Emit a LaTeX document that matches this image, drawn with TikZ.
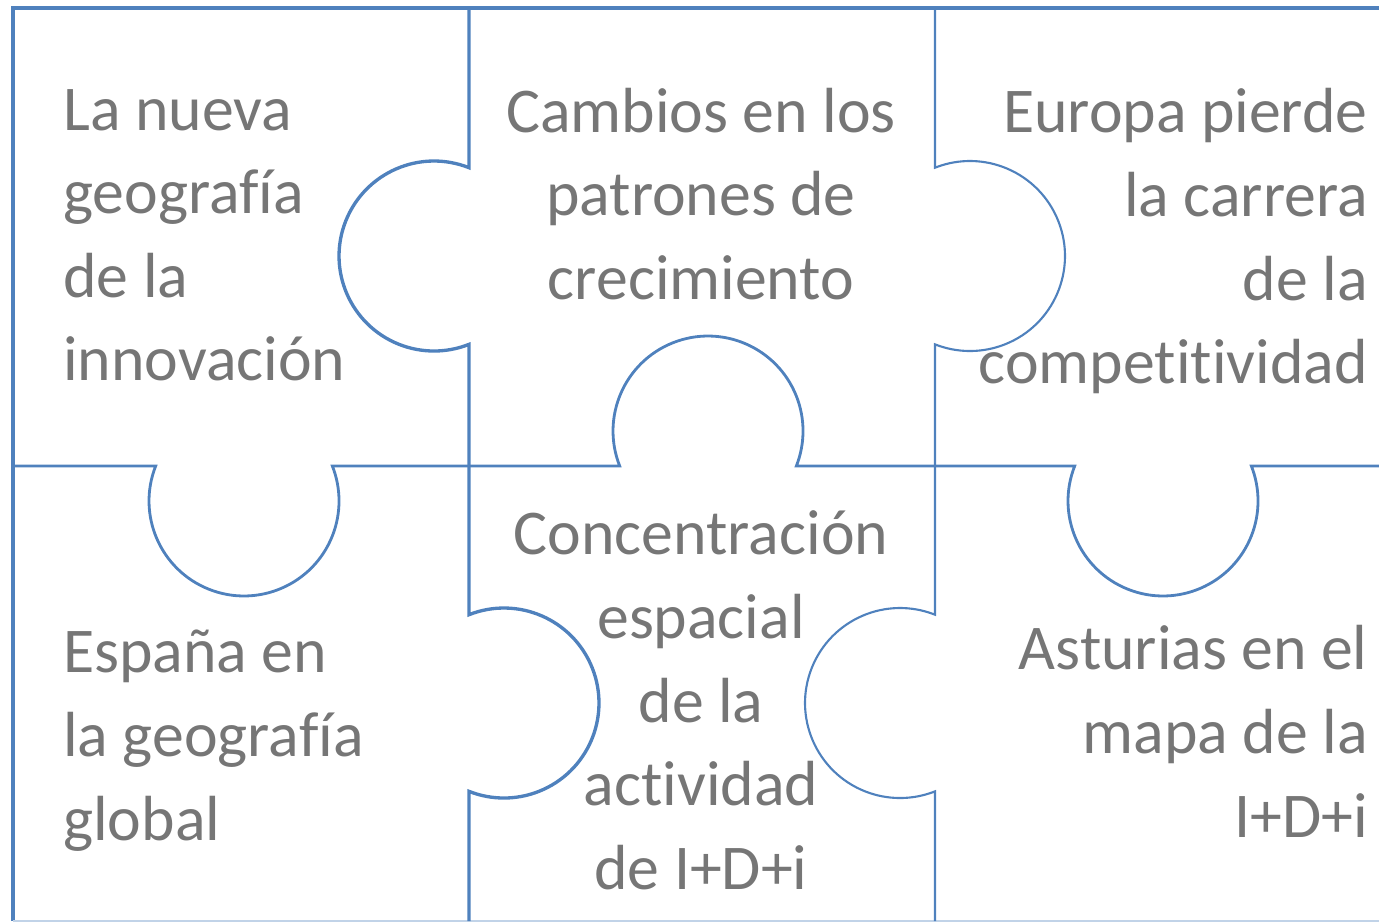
\documentclass[tikz,border=0pt]{standalone}
\usepackage{fontspec}
\setmainfont{Carlito}[Ligatures=NoCommon]
\usepackage{tikz}
\usepackage{xcolor}
\usetikzlibrary{positioning}
\definecolor{pieceblue}{RGB}{79,129,189}
\definecolor{textgray}{RGB}{118,118,118}
\newcommand{\piecefont}{\fontsize{36.3}{47.6}\selectfont}

\begin{document}
\begin{tikzpicture}[
            x=0.02cm, y=-0.02cm,
            cutline/.style={draw=pieceblue, line width=1.4pt},
            outerline/.style={draw=pieceblue, line width=2.3pt},
            piecetext/.style={inner sep=0pt, text=textgray, font=\piecefont}
        ]
        \useasboundingbox (0,0) rectangle (1379,923);
        % outer frame
        \draw[outerline] (1379,8) -- (13,8) -- (13,921);
        \draw[pieceblue!35, line width=0.8pt] (13,921) -- (1379,921);
        % vertical cut, first column
        \draw[cutline, line width=1.9pt] (469,8) -- (469,167.7)
            arc[start angle=-68.4, end angle=-291.6, radius=95] -- (469,614.7)
            arc[start angle=-111.6, end angle=111.6, radius=95] -- (469,921);
        % vertical cut, second column
        \draw[cutline, line width=1.2pt] (935,8) -- (935,167.7)
            arc[start angle=-111.6, end angle=111.6, radius=95] -- (935,614.7)
            arc[start angle=-68.4, end angle=-291.6, radius=95] -- (935,921);
        % horizontal cut
        \draw[cutline, line width=1.6pt] (13,466) -- (155.7,466)
            arc[start angle=201.6, end angle=-21.6, radius=95] -- (619.7,466)
            arc[start angle=158.4, end angle=381.6, radius=95] -- (1074.7,466)
            arc[start angle=201.6, end angle=-21.6, radius=95] -- (1379,466);
        % top row
        \node[piecetext, anchor=north west, align=left] (innovation) at (63,71.2)
            {\strut La nueva\\\strut geografía\\\strut de la\\\strut innovación};
        \node[piecetext, anchor=north, align=center] (growth) at (701,73.2)
            {\strut Cambios en los\\\strut patrones de\\\strut crecimiento};
        \node[piecetext, anchor=north east, align=right] (europe) at (1368,74)
            {\strut Europa pierde\\\strut la carrera\\\strut de la\\\strut competitividad};
        % bottom row
        \node[piecetext, anchor=north west, align=left] (spain) at (63,614)
            {\strut España en\\\strut la geografía\\\strut global};
        \node[piecetext, anchor=north, align=center] (concentration) at (701,496)
            {\strut Concentración\\\strut espacial\\\strut de la\\\strut actividad\\\strut de I+D+i};
        \node[piecetext, anchor=north east, align=right] (asturias) at (1368,611)
            {\strut Asturias en el\\\strut mapa de la\\\strut I+D+i};
\end{tikzpicture}
\end{document}
